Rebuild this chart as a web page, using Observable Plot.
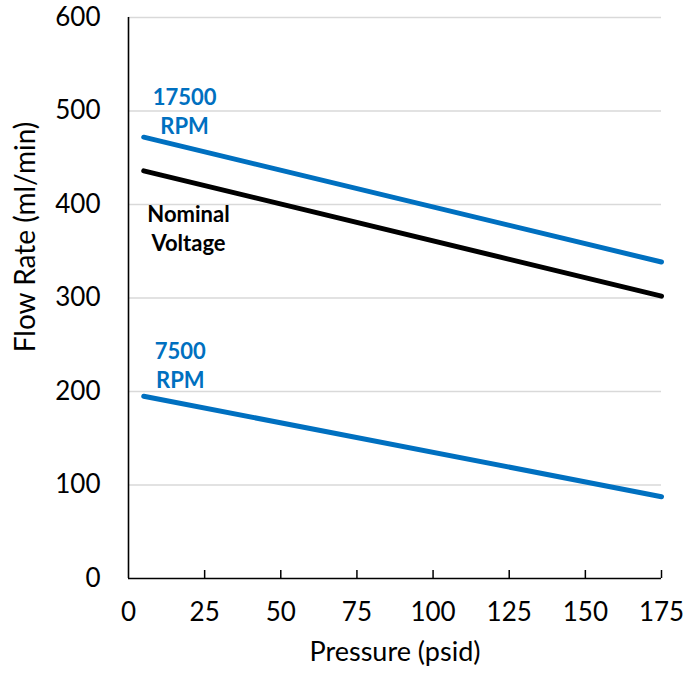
<!DOCTYPE html>
<html>
<head>
<meta charset="utf-8">
<script src="https://cdn.jsdelivr.net/npm/d3@7"></script>
<script src="https://cdn.jsdelivr.net/npm/@observablehq/plot@0.6"></script>
<style>
  html, body { margin: 0; padding: 0; background: #fff; }
  svg { display: block; }
</style>
</head>
<body>
<div id="chart"></div>
<script>
// Data
const pressure = [5, 175];
const rpm17500 = [472, 338.5];
const nominal = [436, 302];
const rpm7500 = [195, 87.5];

const xTicks = [0, 25, 50, 75, 100, 125, 150, 175];
const yTicks = [0, 100, 200, 300, 400, 500, 600];
const gridTicks = [100, 200, 300, 400, 500, 600];

const labelText = ["17500\nRPM", "Nominal\nVoltage", "7500\nRPM"];
const labelX = [18.4, 19.7, 17];
const labelY = [501, 376, 229];
const labelColor = ["#0070C0", "#000000", "#0070C0"];

const seriesNames = ["17500 RPM", "Nominal Voltage", "7500 RPM"];
const seriesValues = [rpm17500, nominal, rpm7500];
const seriesColor = ["#0070C0", "#000000", "#0070C0"];

const rows = [];
seriesNames.forEach((name, i) => {
  pressure.forEach((p, j) => rows.push({series: name, x: p, y: seriesValues[i][j], color: seriesColor[i]}));
});
const labels = labelText.map((t, i) => ({text: t, x: labelX[i], y: labelY[i], color: labelColor[i]}));

const font = "Lato, 'Open Sans', 'DejaVu Sans', sans-serif";

const chart = Plot.plot({
  width: 699,
  height: 679,
  marginLeft: 128,
  marginRight: 38,
  marginTop: 17,
  marginBottom: 101,
  style: {fontFamily: font, fontSize: "26px", color: "#000", background: "#fff"},
  x: {type: "linear", domain: [0, 175]},
  y: {type: "linear", domain: [0, 600]},
  marks: [
    Plot.ruleY(gridTicks, {stroke: "#d9d9d9", strokeWidth: 1.4}),
    Plot.axisY(yTicks, {tickSize: 0, tickPadding: 28, label: null, fontSize: 26}),
    Plot.axisX(xTicks, {tickSize: 0, tickPadding: 24, label: null, fontSize: 26}),
    Plot.ruleX(xTicks.slice(1), {y1: 0, y2: 0, insetTop: -8, stroke: "#000", strokeWidth: 1.5}),
    Plot.ruleX([0], {stroke: "#000", strokeWidth: 1.6}),
    Plot.ruleY([0], {stroke: "#000", strokeWidth: 1.6}),
    Plot.line(rows, {x: "x", y: "y", z: "series", stroke: "color", strokeWidth: 5, strokeLinecap: "round"}),
    Plot.text(labels, {x: "x", y: "y", text: "text", fill: "color", fontWeight: "bold", fontSize: 22, lineHeight: 1.32, textAnchor: "middle"}),
    Plot.text(["Pressure (psid)"], {frameAnchor: "bottom", dy: 82, fontSize: 27}),
    Plot.text(["Flow Rate (ml/min)"], {frameAnchor: "left", textAnchor: "middle", dx: -102, dy: -61, rotate: -90, fontSize: 28})
  ]
});

document.getElementById("chart").appendChild(chart);
</script>
</body>
</html>
